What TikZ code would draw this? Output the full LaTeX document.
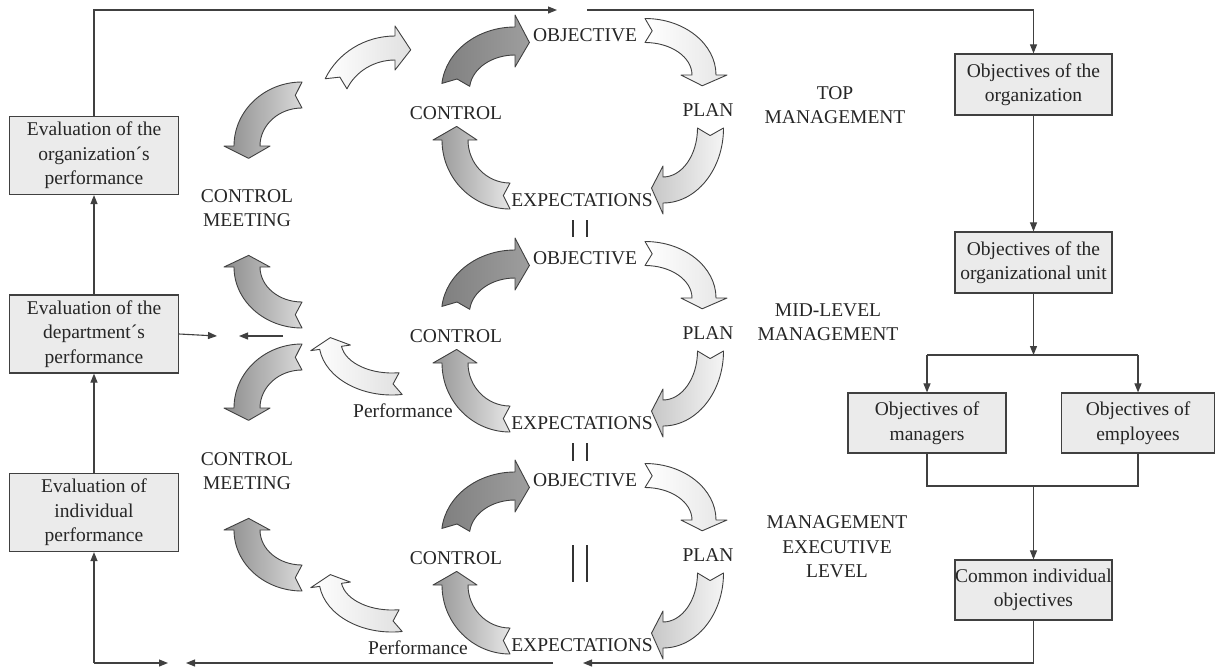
\documentclass[tikz,border=0pt]{standalone}
\usepackage{fontspec}
\setmainfont{Liberation Serif}
\usetikzlibrary{arrows.meta}
\newcommand\dfont{\fontsize{19.5}{24.5}\selectfont}
\def\tipd{14}
% #1 cx, #2 cy, #3 rx, #4 ry, #5 half width, #6 head extension, #7 tail angle, #8 head angle, #9 style
\newcommand\CArrow[9]{%
 \pgfmathsetmacro\caSg{(#8>#7)?1:-1}%
 \pgfmathsetmacro\caAo{#3+#5}\pgfmathsetmacro\caBo{#4+#5}%
 \pgfmathsetmacro\caAi{#3-#5}\pgfmathsetmacro\caBi{#4-#5}%
 \pgfmathsetmacro\caAh{#3+#5+#6}\pgfmathsetmacro\caBh{#4+#5+#6}%
 \pgfmathsetmacro\caAj{#3-#5-#6}\pgfmathsetmacro\caBj{#4-#5-#6}%
 \pgfmathsetmacro\caTa{#8+\caSg*\tipd}%
 \pgfmathsetmacro\caNa{#7+\caSg*7}%
 \pgfmathsetmacro\caXA{#1+\caAo*cos(#7)}\pgfmathsetmacro\caYA{#2+\caBo*sin(#7)}%
 \pgfmathsetmacro\caXH{#1+\caAh*cos(#8)}\pgfmathsetmacro\caYH{#2+\caBh*sin(#8)}%
 \pgfmathsetmacro\caXT{#1+#3*cos(\caTa)}\pgfmathsetmacro\caYT{#2+#4*sin(\caTa)}%
 \pgfmathsetmacro\caXJ{#1+\caAj*cos(#8)}\pgfmathsetmacro\caYJ{#2+\caBj*sin(#8)}%
 \pgfmathsetmacro\caXI{#1+\caAi*cos(#8)}\pgfmathsetmacro\caYI{#2+\caBi*sin(#8)}%
 \pgfmathsetmacro\caXN{#1+#3*cos(\caNa)}\pgfmathsetmacro\caYN{#2+#4*sin(\caNa)}%
 \draw[carrow,#9] (\caXA,\caYA) arc[start angle=#7,end angle=#8,x radius=\caAo,y radius=\caBo]
   -- (\caXH,\caYH) -- (\caXT,\caYT) -- (\caXJ,\caYJ) -- (\caXI,\caYI)
   arc[start angle=#8,end angle=#7,x radius=\caAi,y radius=\caBi] -- (\caXN,\caYN) -- cycle;
}
\newcommand\LevelCycle[2]{%
 \begin{scope}[shift={(0,#1)}]
  \CArrow{515}{90}{59.5}{49}{14}{12}{186}{270}{fillA}
  \CArrow{645}{75}{59}{44.5}{12}{11}{270}{360}{fillB}
  \CArrow{663}{128}{47.5}{62}{13}{11}{0}{90}{fillC}
  \CArrow{510}{140}{55}{56}{13}{9}{90}{180}{fillD}
  \node (obj#2) at (585,35) {OBJECTIVE};
  \node (ctl#2) at (456,113) {CONTROL};
  \node (plan#2) at (708,110) {PLAN};
  \node (exp#2) at (582,200) {EXPECTATIONS};
 \end{scope}}
\begin{document}
\begin{tikzpicture}[x=1pt,y=-1pt,
  every node/.style={font=\dfont, text=black!85, inner sep=0pt, align=center},
  box/.style={draw=black!75, line width=1.2pt, fill=black!8},
  conn/.style={draw=black!75, line width=1.1pt},
  arr/.style={conn, -{Triangle[length=9pt,width=7pt]}},
  carrow/.style={draw=black!75, line width=0.9pt, line join=round},
  bars/.style={draw=black!80, line width=1.8pt},
  fillA/.style={left color=black!50, right color=black!38},
  fillB/.style={left color=white, right color=black!10},
  fillC/.style={left color=black!22, right color=black!4},
  fillD/.style={left color=black!42, right color=black!10},
  grayL/.style={left color=black!45, right color=black!15},
  whiteL/.style={left color=white, right color=black!12}]
\fill[white] (0,0) rectangle (1215,667);
\useasboundingbox (0,0) rectangle (1215,667);

% left boxes
\node[box, minimum width=169pt, minimum height=78pt] (ev1) at (94,155.5) {Evaluation of the\\organization´s\\performance};
\node[box, minimum width=169pt, minimum height=78pt] (ev2) at (94,334) {Evaluation of the\\department´s\\performance};
\node[box, minimum width=169pt, minimum height=78pt] (ev3) at (94,512.5) {Evaluation of\\individual\\performance};

% right boxes
\node[box, minimum width=157pt, minimum height=61pt] (org) at (1033.5,84.5) {Objectives of the\\organization};
\node[box, minimum width=157pt, minimum height=61pt] (unit) at (1033.5,262.5) {Objectives of the\\organizational unit};
\node[box, minimum width=158pt, minimum height=60pt] (mgr) at (927,423) {Objectives of\\managers};
\node[box, minimum width=153pt, minimum height=60pt] (emp) at (1138,423) {Objectives of\\employees};
\node[box, minimum width=157pt, minimum height=60pt] (com) at (1033.5,590) {Common individual\\objectives};

% coordinates
\coordinate (tA) at (557,10);
\coordinate (tB) at (587,10);
\coordinate (tC) at (1033.5,10);
\coordinate (jn) at (1033.5,355);
\coordinate (jL) at (927,355);
\coordinate (jR) at (1138,355);
\coordinate (kM) at (1033.5,486);
\coordinate (mA) at (217,336);
\coordinate (mB) at (283,336);
\coordinate (mC) at (239,336);
\coordinate (bL) at (94,663);
\coordinate (bA) at (168,663);
\coordinate (bB) at (553,663);
\coordinate (bC) at (186,663);
\coordinate (bD) at (583,663);

% connectors
\draw[arr] (ev1.north) |- (tA);
\draw[arr] (tB) -- (tC) -- (org.north);
\draw[arr] (ev2.north) -- (ev1.south);
\draw[arr] (ev3.north) -- (ev2.south);
\draw[arr] (bL) -- (ev3.south);
\draw[arr] (bL) -- (bA);
\draw[arr] (bB) -- (bC);
\draw[arr] (com.south) |- (bD);
\draw[arr] (ev2.east) -- (mA);
\draw[arr] (mB) -- (mC);
\draw[arr] (org.south) -- (unit.north);
\draw[arr] (unit.south) -- (jn);
\draw[conn] (jL) -- (jR);
\draw[arr] (jL) -- (mgr.north);
\draw[arr] (jR) -- (emp.north);
\draw[conn] (mgr.south) |- (kM) -| (emp.south);
\draw[arr] (kM) -- (com.north);

% cycles
\LevelCycle{0}{T}
\LevelCycle{223}{M}
\LevelCycle{445}{B}

% equality bars
\draw[bars] (573,220) -- (573,237) (587,220) -- (587,237);
\draw[bars] (573,443) -- (573,461) (587,443) -- (587,461);
\draw[bars] (573,545) -- (573,582) (587,545) -- (587,582);

% left-side arrows
\CArrow{395}{110}{65}{62}{12}{10}{205}{270}{whiteL}
\CArrow{302}{146}{55}{51}{13}{10}{270}{180}{grayL}
\CArrow{302}{267}{55}{48}{13}{10}{90}{180}{grayL}
\CArrow{302}{408}{55}{51}{13}{10}{270}{180}{grayL}
\CArrow{392}{342}{62}{42}{11}{9}{82}{172}{whiteL}
\CArrow{302}{530}{55}{48}{13}{10}{90}{180}{grayL}
\CArrow{392}{579}{62}{42}{11}{9}{82}{172}{whiteL}

% labels
\node (cm1) at (247,208) {CONTROL\\MEETING};
\node (cm2) at (247,471) {CONTROL\\MEETING};
\node (pf1) at (403,411) {Performance};
\node (pf2) at (418,648) {Performance};
\node (lvl1) at (835,105) {TOP\\MANAGEMENT};
\node (lvl2) at (828,322) {MID-LEVEL\\MANAGEMENT};
\node (lvl3) at (837,547) {MANAGEMENT\\EXECUTIVE\\LEVEL};
\end{tikzpicture}
\end{document}
